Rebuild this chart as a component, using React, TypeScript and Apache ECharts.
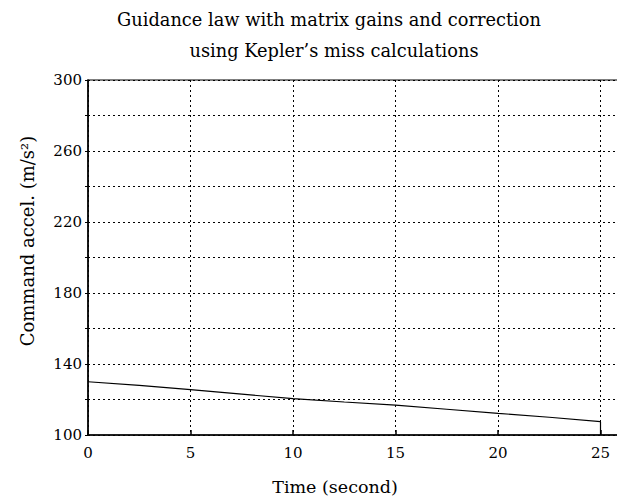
import React, { useEffect, useRef } from "react";
import * as echarts from "echarts";

const titleLines = ["Guidance law with matrix gains and correction", "using Kepler\u2019s miss calculations"];
const xAxisName = "Time (second)";
const yAxisName = "Command accel. (m/s\u00B2)";
const timeValues = [0, 2.5, 5, 7.5, 10, 12.5, 15, 17.5, 20, 22.5, 25, 25];
const accelValues = [130, 128, 125.6, 123, 120.5, 118.6, 116.8, 114.5, 112.2, 110, 107.5, 100];

export default function App() {
  const ref = useRef<HTMLDivElement>(null);
  useEffect(() => {
    if (!ref.current) return;
    const chart = echarts.init(ref.current, null, { renderer: "svg" });
    const font = "DejaVu Serif";
    const titleStyle = { fontFamily: font, fontSize: 17.8, fontWeight: "normal", color: "#000" };
    chart.setOption({
      animation: false,
      backgroundColor: "#fff",
      textStyle: { fontFamily: font, color: "#000" },
      title: [
        { text: titleLines[0], left: 329, top: 10, textAlign: "center", padding: 0, textStyle: titleStyle },
        { text: titleLines[1], left: 334, top: 41, textAlign: "center", padding: 0, textStyle: titleStyle },
      ],
      graphic: [
        {
          type: "text",
          x: 27,
          y: 241,
          rotation: Math.PI / 2,
          style: {
            text: yAxisName,
            fontFamily: font,
            fontSize: 18,
            fill: "#000",
            align: "center",
            verticalAlign: "middle",
          },
        },
        {
          type: "text",
          x: 335,
          y: 487,
          style: {
            text: xAxisName,
            fontFamily: font,
            fontSize: 17.5,
            fill: "#000",
            align: "center",
            verticalAlign: "middle",
          },
        },
      ],
      grid: {
        left: 88,
        top: 80,
        width: 553.5,
        height: 355,
        outerBoundsMode: "none",
        containLabel: false,
        show: true,
        borderColor: "#000",
        borderWidth: 1.2,
        backgroundColor: "transparent",
      },
      xAxis: {
        type: "value",
        min: 0,
        max: 27,
        interval: 5,
        axisLine: { show: true, onZero: false, lineStyle: { color: "#000", width: 1.5 } },
        axisTick: { show: true, inside: true, length: 5, lineStyle: { color: "#000", width: 1.5 } },
        axisLabel: {
          fontFamily: font,
          fontSize: 15,
          color: "#000",
          margin: 10,
          showMaxLabel: false,
        },
        splitLine: { show: true, lineStyle: { color: "#000", type: [2, 3], width: 1 } },
      },
      yAxis: {
        type: "value",
        min: 100,
        max: 300,
        interval: 20,
        axisLine: { show: true, lineStyle: { color: "#000", width: 1.5 } },
        axisTick: { show: true, length: 3, lineStyle: { color: "#000", width: 1 } },
        axisLabel: {
          fontFamily: font,
          fontSize: 15,
          color: "#000",
          margin: 6,
          formatter: (v: number) => ((v - 100) % 40 === 0 ? String(v) : ""),
        },
        splitLine: { show: true, lineStyle: { color: "#000", type: [2, 3], width: 1 } },
      },
      series: [
        {
          type: "line",
          data: timeValues.map((t, i) => [t, accelValues[i]]),
          symbol: "none",
          lineStyle: { color: "#000", width: 1.2 },
        },
      ],
    });
    return () => chart.dispose();
  }, []);
  return (
    <div
      ref={ref}
      style={{ position: "fixed", left: 0, top: 0, width: 617, height: 498, background: "#fff" }}
    />
  );
}
